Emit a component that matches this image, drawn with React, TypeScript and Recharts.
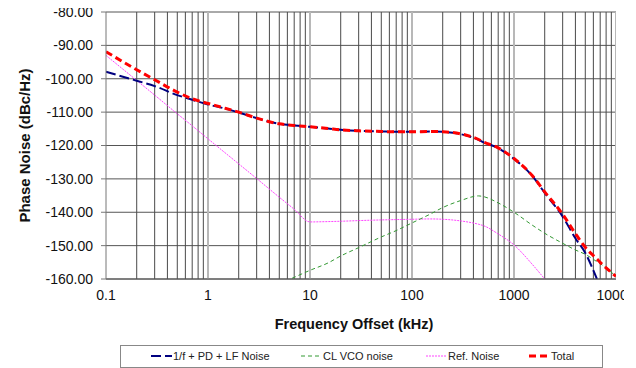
import React from 'react';
import { LineChart, Line, XAxis, YAxis, CartesianGrid, ReferenceLine } from 'recharts';

// Frequency offsets (kHz)
const freqKHz = [0.1, 0.2, 0.3, 0.5, 0.7, 1, 1.5, 2, 3, 5, 7, 10, 15, 20, 30, 50, 70, 100, 150, 200, 300, 450, 500, 700, 1000, 1500, 2000, 3000, 4000, 5000, 6500, 7000, 10000];

// 1/f + PD + LF Noise (dBc/Hz)
const pllNoise = [-97.9, -100.6, -102.2, -104.9, -106.3, -107.7, -109.0, -110.1, -111.8, -113.5, -114.0, -114.4, -114.9, -115.3, -115.6, -115.8, -115.9, -115.9, -115.8, -115.9, -116.6, -118.3, -119.0, -120.8, -124.0, -129.0, -134.2, -141.3, -147.8, -152.2, -160.0, null, null];

// CL VCO noise
const vcoNoise = [null, null, null, null, null, null, null, null, null, -161.5, -159.5, -157.4, -155.2, -153.1, -150.6, -147.4, -145.5, -143.2, -140.6, -138.6, -136.5, -135.1, -135.3, -137.2, -140.0, -143.8, -146.3, -149.3, -151.3, -152.6, -154.8, -155.4, -159.2];

// Ref. Noise
const refNoise = [-93.0, -100.5, -104.9, -110.5, -114.1, -118.0, -122.4, -125.5, -129.9, -135.5, -139.1, -142.9, -142.8, -142.7, -142.5, -142.3, -142.2, -142.1, -142.0, -142.1, -142.6, -143.6, -144.0, -146.5, -149.8, -155.5, -160.0, null, null, null, null, null, null];

// Total
const totalNoise = [-91.9, -97.3, -100.3, -104.0, -106.0, -107.4, -108.9, -110.0, -111.8, -113.5, -114.0, -114.4, -114.9, -115.3, -115.6, -115.8, -115.9, -115.9, -115.8, -115.9, -116.5, -118.2, -118.9, -120.7, -123.9, -128.9, -133.9, -140.6, -146.4, -150.5, -154.0, -155.0, -159.2];

const xTicks = [0.1, 1, 10, 100, 1000, 10000];
const yTicks = [-160, -150, -140, -130, -120, -110, -100, -90, -80];
const majorGrid = [1, 10, 100, 1000, 10000];
const minorGrid = [
  0.2, 0.3, 0.4, 0.5, 0.6, 0.7, 0.8, 0.9,
  2, 3, 4, 5, 6, 7, 8, 9,
  20, 30, 40, 50, 60, 70, 80, 90,
  200, 300, 400, 500, 600, 700, 800, 900,
  2000, 3000, 4000, 5000, 6000, 7000, 8000, 9000,
];

const seriesInfo = [
  { key: 'ref', name: 'Ref. Noise', color: '#ff44ff', width: 1, dash: '2 1' },
  { key: 'vco', name: 'CL VCO noise', color: '#339933', width: 1, dash: '4 3' },
  { key: 'pll', name: '1/f + PD + LF Noise', color: '#000080', width: 2, dash: '10 4' },
  { key: 'total', name: 'Total', color: '#ff0000', width: 3, dash: '7 4' },
];
const legendOrder = ['pll', 'vco', 'ref', 'total'];

const data = freqKHz.map((f, i) => ({
  f,
  pll: pllNoise[i],
  vco: vcoNoise[i],
  ref: refNoise[i],
  total: totalNoise[i],
}));

const FONT = '"Liberation Sans", Arial, sans-serif';

export default function App() {
  const legendLefts = [30, 180, 305, 408];
  return (
    <div style={{ position: 'relative', width: 616, height: 368, marginTop: -8, fontFamily: FONT }}>
      <LineChart width={616} height={368} data={data} margin={{ top: 12, right: 8, left: 0, bottom: 0 }}>
        <CartesianGrid vertical={false} stroke="#555" strokeWidth={1} horizontalValues={yTicks} />
        {minorGrid.map((v) => (
          <ReferenceLine key={'mi' + v} x={v} stroke="#4a4a4a" strokeWidth={1} ifOverflow="hidden" />
        ))}
        {majorGrid.map((v) => (
          <ReferenceLine key={'ma' + v} x={v} stroke="#b8b8b8" strokeWidth={2} ifOverflow="hidden" />
        ))}
        <XAxis
          dataKey="f"
          type="number"
          scale="log"
          domain={[0.1, 10000]}
          ticks={xTicks}
          interval={0}
          allowDataOverflow
          height={89}
          tickSize={0}
          tickMargin={11}
          axisLine={{ stroke: '#555' }}
          tickLine={false}
          tick={{ fontSize: 14, fill: '#111', fontFamily: FONT }}
          tickFormatter={(v: number) => String(v)}
          label={(props: any) => {
            const vb = props.viewBox || { x: 98, y: 279, width: 510 };
            return (
              <text
                x={vb.x + vb.width / 2 - 7}
                y={vb.y + 50}
                textAnchor="middle"
                fontSize={14.5}
                fontWeight="bold"
                fill="#111"
                fontFamily={FONT}
              >
                Frequency Offset (kHz)
              </text>
            );
          }}
        />
        <YAxis
          type="number"
          domain={[-160, -80]}
          ticks={yTicks}
          interval={0}
          allowDataOverflow
          width={98}
          tickSize={5}
          tickMargin={8}
          axisLine={{ stroke: '#777' }}
          tickLine={{ stroke: '#777' }}
          tick={{ fontSize: 14, fill: '#111', fontFamily: FONT }}
          tickFormatter={(v: number) => v.toFixed(2)}
          label={{
            value: 'Phase Noise (dBc/Hz)',
            angle: -90,
            position: 'insideLeft',
            offset: 17,
            style: { textAnchor: 'middle', fontWeight: 'bold', fontSize: 15, fill: '#111', fontFamily: FONT },
          }}
        />
        {seriesInfo.map((s) => (
          <Line
            key={s.key}
            type="monotone"
            dataKey={s.key}
            name={s.name}
            stroke={s.color}
            strokeWidth={s.width}
            strokeDasharray={s.dash}
            dot={false}
            activeDot={false}
            isAnimationActive={false}
          />
        ))}
      </LineChart>
      <div
        style={{
          position: 'absolute',
          left: 112,
          top: 345,
          width: 481,
          height: 21,
          border: '1px solid #888',
          background: '#fff',
          fontSize: 11,
          color: '#222',
        }}
      >
        {legendOrder.map((k, i) => {
          const s = seriesInfo.find((x) => x.key === k)!;
          return (
            <div
              key={k}
              style={{ position: 'absolute', left: legendLefts[i], top: 4, display: 'flex', alignItems: 'center', whiteSpace: 'nowrap' }}
            >
              <svg width={21} height={12} style={{ display: 'block' }}>
                <line x1={0} y1={6} x2={21} y2={6} stroke={s.color} strokeWidth={s.width} strokeDasharray={s.dash} />
              </svg>
              <span style={{ marginLeft: 1, lineHeight: '12px' }}>{s.name}</span>
            </div>
          );
        })}
      </div>
    </div>
  );
}
